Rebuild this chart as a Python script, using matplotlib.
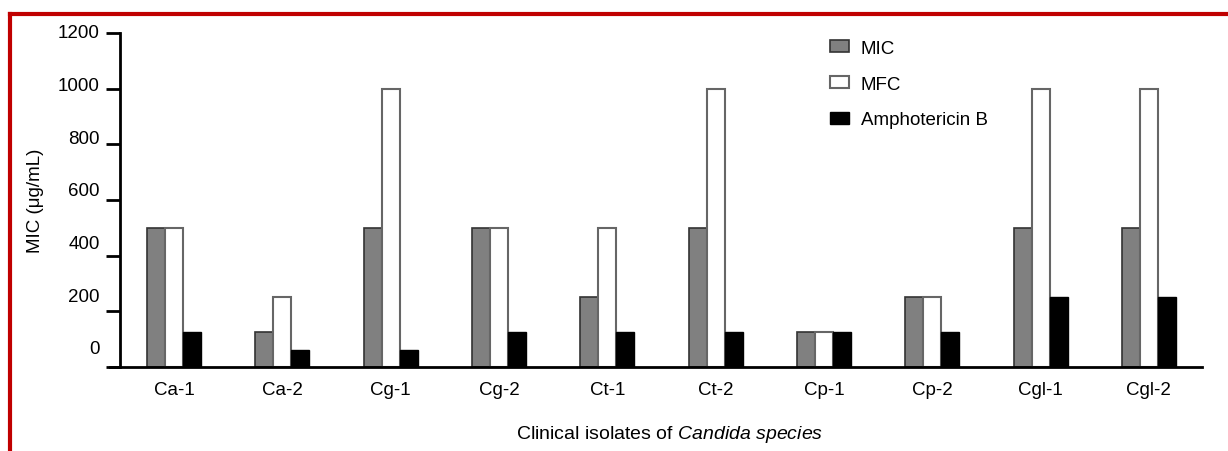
import numpy as np
import matplotlib.pyplot as plt
from matplotlib.lines import Line2D

plt.rcParams['font.family'] = ['Liberation Sans', 'DejaVu Sans']
plt.rcParams['mathtext.fontset'] = 'custom'
plt.rcParams['mathtext.rm'] = 'Liberation Sans'
plt.rcParams['mathtext.it'] = 'Liberation Sans:italic'

# MIC / MFC values per isolate (µg/mL)
isolates = ['Ca-1', 'Ca-2', 'Cg-1', 'Cg-2', 'Ct-1', 'Ct-2', 'Cp-1', 'Cp-2', 'Cgl-1', 'Cgl-2']
mic = [500, 125, 500, 500, 250, 500, 125, 250, 500, 500]
mfc = [500, 250, 1000, 500, 500, 1000, 125, 250, 1000, 1000]
amph_b = [125, 62.5, 62.5, 125, 125, 125, 125, 125, 250, 250]
y_ticks = [0, 200, 400, 600, 800, 1000, 1200]

W, H = 1228, 452
fs = 13.5
fig = plt.figure(figsize=(W / 100, H / 100), dpi=100)
ax = fig.add_axes([110 / W, 1 - 368 / H, (1202 - 110) / W, (368 - 34) / H])

x = np.arange(len(isolates))
w = 0.166
ax.bar(x - w, mic, w, color='#808080', edgecolor='#333333', linewidth=1.2, label='MIC')
ax.bar(x, mfc, w, color='white', edgecolor='#666666', linewidth=1.5, label='MFC')
ax.bar(x + w, amph_b, w, color='black', edgecolor='black', linewidth=1, label='Amphotericin B')

ax.set_xlim(-0.59, 9.49)
ax.set_ylim(0, 1200)
ax.set_xticks(x)
ax.set_xticklabels(isolates, fontsize=fs)
ax.set_yticks(y_ticks)
ax.tick_params(axis='x', length=0, pad=10)
ax.tick_params(axis='y', length=10, width=2, labelleft=False)

# tick values; in the original they drift upward from their ticks toward the bottom
for v in y_ticks:
    dy = (1200 - v) / 200 * 3 * 0.72
    ax.annotate(str(v), xy=(-0.5, v), xycoords='data', xytext=(-20 * 0.72, dy),
                textcoords='offset points', ha='right', va='center', fontsize=fs,
                annotation_clip=False)

ax.spines['top'].set_visible(False)
ax.spines['right'].set_visible(False)
ax.spines['left'].set_position(('data', -0.5))
ax.spines['left'].set_linewidth(2)
ax.spines['bottom'].set_linewidth(2)

ax.set_ylabel('MIC (\u03bcg/mL)', fontsize=fs)
ax.yaxis.set_label_coords((44 - 110) / 1092, 0.5)
ax.set_xlabel(r'Clinical isolates of $\it{Candida\ species}$', fontsize=14)
ax.xaxis.set_label_coords((670 - 110) / 1092, -(424 - 368) / 334)

ax.legend(loc='upper left', bbox_to_anchor=((813 - 110) / (1202 - 110), 1.03),
          frameon=False, fontsize=fs, handlelength=1.0, handleheight=0.6,
          labelspacing=1.0, handletextpad=0.65)

# red frame on top and left
fig.add_artist(Line2D([10 / W, 1], [1 - 15 / H, 1 - 15 / H], color='#c00000', linewidth=3))
fig.add_artist(Line2D([10 / W, 10 / W], [0, 1 - 15 / H], color='#c00000', linewidth=3))

fig.savefig('out.png', dpi=100)
